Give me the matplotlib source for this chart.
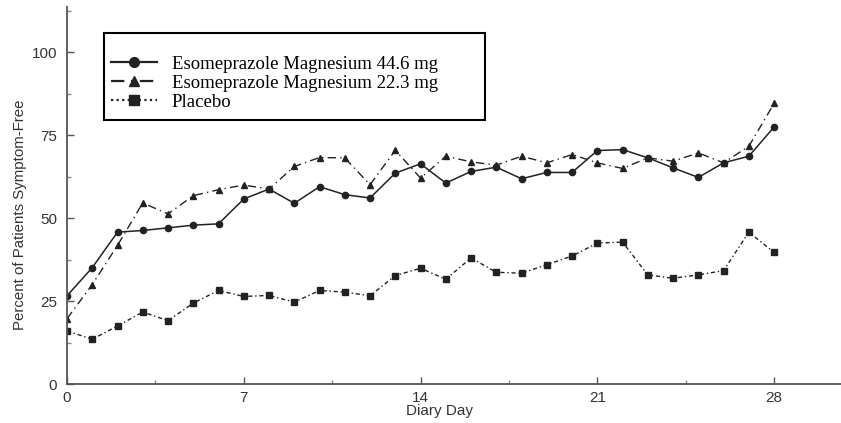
import numpy as np
import matplotlib
matplotlib.use("Agg")
import matplotlib.pyplot as plt
from matplotlib.patches import Rectangle
from matplotlib.ticker import MultipleLocator

#DATA

days = np.arange(0, 29)

eso_446 = [26.6, 35.1, 45.8, 46.3, 47.1, 47.9, 48.3, 55.8, 58.8, 54.5,
           59.5, 57.1, 56.1, 63.6, 66.4, 60.6, 64.1, 65.4, 61.9, 63.8,
           63.8, 70.4, 70.7, 68.2, 65.2, 62.3, 66.7, 68.7, 77.5]

eso_223 = [19.7, 30.0, 41.8, 54.6, 51.3, 56.8, 58.6, 60.0, 58.8, 65.6,
           68.3, 68.2, 60.1, 70.5, 62.1, 68.7, 67.0, 66.0, 68.7, 66.7,
           69.2, 66.7, 65.0, 68.2, 67.2, 69.7, 66.7, 71.7, 84.6]

placebo = [16.0, 13.5, 17.5, 21.7, 19.1, 24.4, 28.2, 26.4, 26.7, 24.7,
           28.2, 27.7, 26.6, 32.7, 34.9, 31.6, 38.0, 33.7, 33.4, 36.0,
           38.6, 42.5, 42.8, 32.9, 31.9, 32.9, 34.2, 45.8, 39.7]

labels = ["Esomeprazole Magnesium 44.6 mg",
          "Esomeprazole Magnesium 22.3 mg",
          "Placebo"]

x_ticks = [0, 7, 14, 21, 28]
y_ticks = [0, 25, 50, 75, 100]

#FIGURE

fig = plt.figure(figsize=(8.41, 4.23), dpi=100)
ax = fig.add_axes([67/841, 39/423, 1 - 67/841, 377/423])

line_col = "#222222"

ax.plot(days, eso_446, '-', color=line_col, linewidth=1.1,
        marker='o', markersize=4.5, label=labels[0])
ax.plot(days, eso_223, color=line_col, linewidth=1.0,
        linestyle=(0, (6, 3, 1, 3)),
        marker='^', markersize=5, label=labels[1])
ax.plot(days, placebo, color=line_col, linewidth=1.0,
        linestyle=(0, (3, 2, 1, 2)),
        marker='s', markersize=4.5, label=labels[2])

#AXES

ax.set_xlim(0, 30.65)
ax.set_ylim(0, 113.7)

ax.set_xticks(x_ticks)
ax.set_yticks(y_ticks)
ax.xaxis.set_minor_locator(MultipleLocator(3.5))
ax.yaxis.set_minor_locator(MultipleLocator(12.5))

spine_col = "#555555"
for side in ["top", "right"]:
    ax.spines[side].set_visible(False)
for side in ["left", "bottom"]:
    ax.spines[side].set_color(spine_col)
    ax.spines[side].set_linewidth(1.3)

ax.tick_params(which="both", direction="in", color=spine_col,
               labelcolor="#333333", labelsize=11, width=1)
ax.tick_params(which="major", length=5)
ax.tick_params(which="minor", length=3, color="#888888")
ax.tick_params(axis="x", pad=5)
ax.tick_params(axis="y", pad=7)

ax.set_xlabel("Diary Day", fontsize=11, color="#333333",
              family="Liberation Sans")
ax.set_ylabel("Percent of Patients Symptom-Free", fontsize=10.8,
              color="#333333", family="Liberation Sans")
ax.xaxis.set_label_coords(0.481, -0.052)
ax.yaxis.set_label_coords(-0.052, 0.448)
for t in ax.get_xticklabels() + ax.get_yticklabels():
    t.set_family("Liberation Sans")

#LEGEND (box drawn separately, it is wider than its text)

leg = ax.legend(loc="upper left", bbox_to_anchor=(0.0568, 0.871),
                borderaxespad=0, frameon=False, borderpad=0,
                handlelength=2.45, handletextpad=0.8,
                labelspacing=0.1,
                prop={"family": "Liberation Serif", "size": 13.5})
for h in leg.legend_handles:
    h.set_linewidth(1.6)
    h.set_markersize(7)
leg.legend_handles[2].set_linestyle((0, (1, 1.5)))

fig.add_artist(Rectangle((104/841, 303/423), 381/841, 87/423,
                         transform=fig.transFigure, facecolor="white",
                         edgecolor="black", linewidth=1.5, zorder=2))
leg.set_zorder(3)
fig.add_artist(leg)

fig.savefig("out.png", dpi=100)
